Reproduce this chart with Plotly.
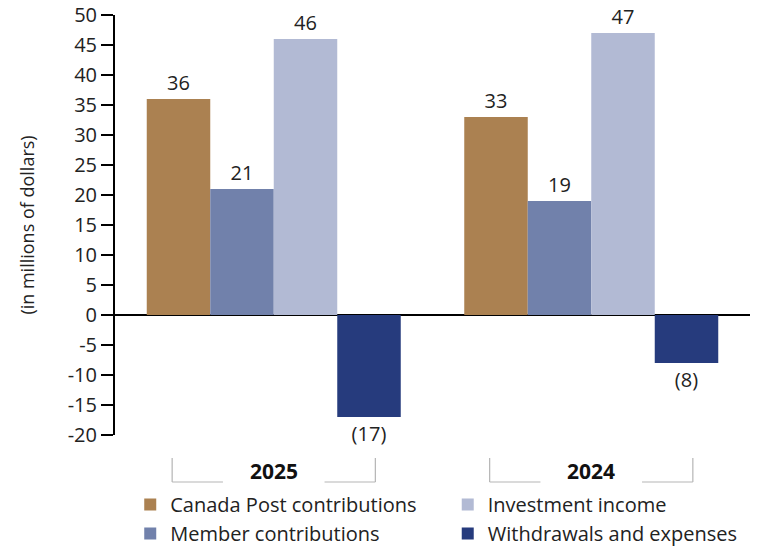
import plotly.graph_objects as go

years = ["2025", "2024"]
series_names = ["Canada Post contributions", "Member contributions",
                "Investment income", "Withdrawals and expenses"]
canada_post = [36, 33]
member = [21, 19]
investment = [46, 47]
withdrawals = [-17, -8]
colors = ["#AB8151", "#7181AB", "#B2BAD4", "#263B7D"]
y_ticks = list(range(-20, 55, 5))
y_tick_labels = [str(v).replace("\u2212", "-") for v in y_ticks]

FONT = "Open Sans"
values = [canada_post, member, investment, withdrawals]
legend_ids = ["legend", "legend", "legend2", "legend2"]

def lab(v):
    return f"({abs(v)})" if v < 0 else str(v)

fig = go.Figure()
for name, vals, col, lg in zip(series_names, values, colors, legend_ids):
    fig.add_trace(go.Bar(
        x=years, y=vals, name=name, marker_color=col,
        marker_line_width=0,
        text=[lab(v) for v in vals], textposition="outside",
        textfont=dict(family=FONT, size=20, color="#222"),
        cliponaxis=False, legend=lg,
    ))

fig.update_layout(
    width=763, height=550,
    margin=dict(l=115, r=13, t=15, b=115, autoexpand=False),
    paper_bgcolor="white", plot_bgcolor="white",
    barmode="group", bargap=0.2, bargroupgap=0,
    font=dict(family=FONT, size=20, color="#222"),
    showlegend=True,
    legend=dict(x=0.024, y=0.118, yref="container", xanchor="left", yanchor="top",
                orientation="v", font=dict(size=20), tracegroupgap=3,
                bgcolor="rgba(0,0,0,0)"),
    legend2=dict(x=0.524, y=0.118, yref="container", xanchor="left", yanchor="top",
                 orientation="v", font=dict(size=20), tracegroupgap=3,
                 bgcolor="rgba(0,0,0,0)"),
)
fig.update_yaxes(range=[-20, 50], tickvals=y_ticks, ticktext=y_tick_labels,
                 ticks="outside", ticklen=12,
                 tickcolor="black", tickwidth=1.5,
                 showline=True, linecolor="black", linewidth=2,
                 showgrid=False, zeroline=True, zerolinecolor="black", zerolinewidth=2,
                 tickfont=dict(size=20),
                 title=dict(text="(in millions of dollars)", standoff=28, font=dict(size=18)))
fig.update_xaxes(showticklabels=False, showline=False, showgrid=False,
                 range=[-0.5, 1.5])

# Category brackets below the plot
H = 420.0
y_top = -23 / H
y_bot = -47 / H
half = 0.32
gap = 0.16
for i, yr in enumerate(years):
    for sx in (i - half, i + half):
        fig.add_shape(type="line", xref="x", yref="paper", x0=sx, x1=sx,
                      y0=y_top, y1=y_bot, line=dict(color="#B5B5B5", width=1.2))
    fig.add_shape(type="line", xref="x", yref="paper", x0=i - half, x1=i - gap,
                  y0=y_bot, y1=y_bot, line=dict(color="#B5B5B5", width=1.2))
    fig.add_shape(type="line", xref="x", yref="paper", x0=i + gap, x1=i + half,
                  y0=y_bot, y1=y_bot, line=dict(color="#B5B5B5", width=1.2))
    fig.add_annotation(x=i, y=-36 / H, xref="x", yref="paper", text=f"<b>{yr}</b>",
                       showarrow=False, font=dict(size=21, color="#111"),
                       xanchor="center", yanchor="middle")

fig.write_html("out.html")
